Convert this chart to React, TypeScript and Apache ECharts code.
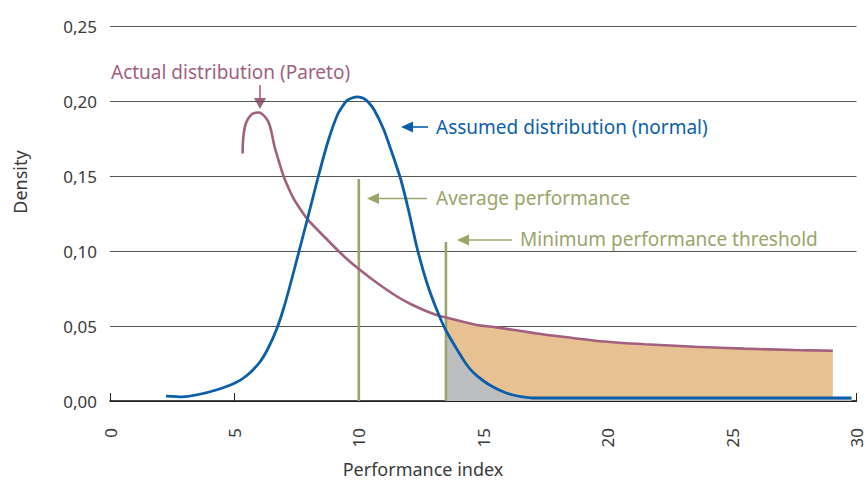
import React, { useEffect, useRef } from "react";
import * as echarts from "echarts";

// Assumed (normal) distribution: x values and densities
const normalX = [2.25, 2.9, 3.6, 4.3, 5.0, 5.5, 6.0, 6.35, 6.7, 7.0, 7.3, 7.6, 7.96, 8.36, 8.76, 9.16, 9.5, 9.75, 9.96, 10.2, 10.4, 10.62, 11.0, 11.3, 11.68, 12.0, 12.34, 12.74, 13.14, 13.5, 13.94, 14.3, 14.6, 15.0, 15.4, 15.8, 16.2, 16.6, 17.0, 29.8];
const normalY = [0.0033, 0.0028, 0.0045, 0.0075, 0.0118, 0.017, 0.0255, 0.035, 0.048, 0.063, 0.081, 0.1, 0.123, 0.149, 0.173, 0.1915, 0.2, 0.2022, 0.2028, 0.2016, 0.1988, 0.194, 0.181, 0.167, 0.148, 0.127, 0.102, 0.0785, 0.0605, 0.047, 0.0345, 0.025, 0.019, 0.0135, 0.0093, 0.0062, 0.004, 0.0027, 0.002, 0.002];

// Actual (Pareto) distribution
const paretoX = [5.33, 5.34, 5.38, 5.45, 5.55, 5.7, 5.85, 5.97, 6.1, 6.25, 6.38, 6.48, 6.56, 6.63, 6.8, 6.96, 7.2, 7.43, 7.96, 8.76, 9.42, 10.0, 10.75, 11.55, 12.1, 12.7, 13.27, 13.5, 14.73, 15.53, 17.12, 17.52, 19.51, 21.5, 23.5, 25.5, 27.5, 29.05];
const paretoY = [0.165, 0.172, 0.179, 0.1845, 0.1882, 0.1912, 0.1922, 0.1923, 0.1915, 0.189, 0.1855, 0.18, 0.1735, 0.1685, 0.159, 0.1505, 0.141, 0.1335, 0.1207, 0.107, 0.0962, 0.088, 0.0785, 0.0695, 0.0645, 0.06, 0.0565, 0.0557, 0.0507, 0.0491, 0.0451, 0.0442, 0.0402, 0.0378, 0.0362, 0.0349, 0.034, 0.0335];

// Reference lines
const averageX = 10;
const averageTop = 0.148;
const thresholdX = 13.5;
const thresholdTop = 0.106;

const xTicks = [0, 5, 10, 15, 20, 25, 30];
const yTicks = [0, 0.05, 0.1, 0.15, 0.2, 0.25];

const BLUE = "#0b5fa9";
const PINK = "#a2607f";
const OLIVE = "#9aa46b";
const ORANGE = "#e8c192";
const GREY = "#bdbec0";
const TEXT = "#3a3a3a";
const FONT = "'Noto Sans', 'Open Sans', sans-serif";

const zip = (xs: number[], ys: number[]) => xs.map((x, i) => [x, ys[i]]);

export default function App() {
  const ref = useRef<HTMLDivElement>(null);

  useEffect(() => {
    if (!ref.current) return;
    const chart = echarts.init(ref.current, undefined, { renderer: "svg" });

    const normal = zip(normalX, normalY);
    const pareto = zip(paretoX, paretoY);
    const paretoTail = pareto.filter((p) => p[0] >= thresholdX);
    const normalTail = normal.filter((p) => p[0] >= thresholdX);

    const arrowLine = (x1: number, y1: number, x2: number, y2: number, color: string) => ({
      type: "line",
      shape: { x1, y1, x2, y2 },
      style: { stroke: color, lineWidth: 1.6 },
    });
    const tri = (pts: number[][], color: string) => ({
      type: "polygon",
      shape: { points: pts },
      style: { fill: color },
    });
    const label = (text: string, x: number, y: number, color: string) => ({
      type: "text",
      x,
      y,
      style: {
        text,
        fill: color,
        fontSize: 19,
        fontFamily: FONT,
        textAlign: "left",
        textVerticalAlign: "middle",
      },
    });

    chart.setOption({
      animation: false,
      grid: { left: 110, right: 3, top: 26, bottom: 80, containLabel: false },
      xAxis: {
        type: "value",
        min: xTicks[0],
        max: xTicks[xTicks.length - 1],
        interval: 5,
        axisLine: { show: true, onZero: false, lineStyle: { color: "#111", width: 1.5 } },
        axisTick: { show: true, inside: true, length: 8, lineStyle: { color: "#222", width: 1 } },
        axisLabel: {
          rotate: 90,
          margin: 27,
          fontSize: 17,
          fontFamily: FONT,
          color: TEXT,
          showMinLabel: true,
          showMaxLabel: true,
        },
        splitLine: { show: false },
      },
      yAxis: {
        type: "value",
        min: yTicks[0],
        max: yTicks[yTicks.length - 1],
        interval: 0.05,
        axisLine: { show: false },
        axisTick: { show: false },
        axisLabel: {
          margin: 13,
          fontSize: 17,
          fontFamily: FONT,
          color: TEXT,
          formatter: (v: number) => v.toFixed(2).replace(".", ","),
        },
        splitLine: { show: true, lineStyle: { color: "#555", width: 1.2 } },
      },
      series: [
        {
          type: "line",
          data: paretoTail,
          showSymbol: false,
          symbol: "none",
          smooth: 0.2,
          lineStyle: { width: 0 },
          areaStyle: { color: ORANGE, opacity: 1 },
          z: 1,
        },
        {
          type: "line",
          data: normalTail,
          showSymbol: false,
          symbol: "none",
          smooth: 0.2,
          lineStyle: { width: 0 },
          areaStyle: { color: GREY, opacity: 1 },
          z: 2,
        },
        {
          type: "line",
          data: [
            [averageX, 0],
            [averageX, averageTop],
          ],
          showSymbol: false,
          symbol: "none",
          lineStyle: { color: OLIVE, width: 2.6 },
          z: 3,
        },
        {
          type: "line",
          data: [
            [thresholdX, 0],
            [thresholdX, thresholdTop],
          ],
          showSymbol: false,
          symbol: "none",
          lineStyle: { color: OLIVE, width: 2.6 },
          z: 3,
        },
        {
          type: "line",
          data: pareto,
          showSymbol: false,
          symbol: "none",
          smooth: 0.2,
          lineStyle: { color: PINK, width: 2.6 },
          z: 4,
        },
        {
          type: "line",
          data: normal,
          showSymbol: false,
          symbol: "none",
          smooth: 0.2,
          lineStyle: { color: BLUE, width: 2.8 },
          z: 5,
        },
      ],
      graphic: [
        label("Actual distribution (Pareto)", 111, 72, PINK),
        arrowLine(260, 85, 260, 100, PINK),
        tri([[254, 98], [266, 98], [260, 109]], PINK),

        label("Assumed distribution (normal)", 436, 127, BLUE),
        arrowLine(428, 127, 410, 127, BLUE),
        tri([[413, 121.5], [413, 132.5], [401, 127]], BLUE),

        label("Average performance", 436, 198, OLIVE),
        arrowLine(427, 198.5, 376, 198.5, OLIVE),
        tri([[379, 193], [379, 204], [367, 198.5]], OLIVE),

        label("Minimum performance threshold", 520, 239, OLIVE),
        arrowLine(512, 240, 466, 240, OLIVE),
        tri([[469, 234.5], [469, 245.5], [457, 240]], OLIVE),

        {
          type: "text",
          x: 20,
          y: 182,
          rotation: Math.PI / 2,
          style: {
            text: "Density",
            fill: TEXT,
            fontSize: 18,
            fontFamily: FONT,
            textAlign: "center",
            textVerticalAlign: "middle",
          },
        },
        {
          type: "text",
          x: 423,
          y: 469,
          style: {
            text: "Performance index",
            fill: TEXT,
            fontSize: 18,
            fontFamily: FONT,
            textAlign: "center",
            textVerticalAlign: "middle",
          },
        },
      ],
    });

    return () => chart.dispose();
  }, []);

  return (
    <div
      ref={ref}
      style={{ position: "absolute", left: 0, top: 0, width: 865, height: 481 }}
    />
  );
}
